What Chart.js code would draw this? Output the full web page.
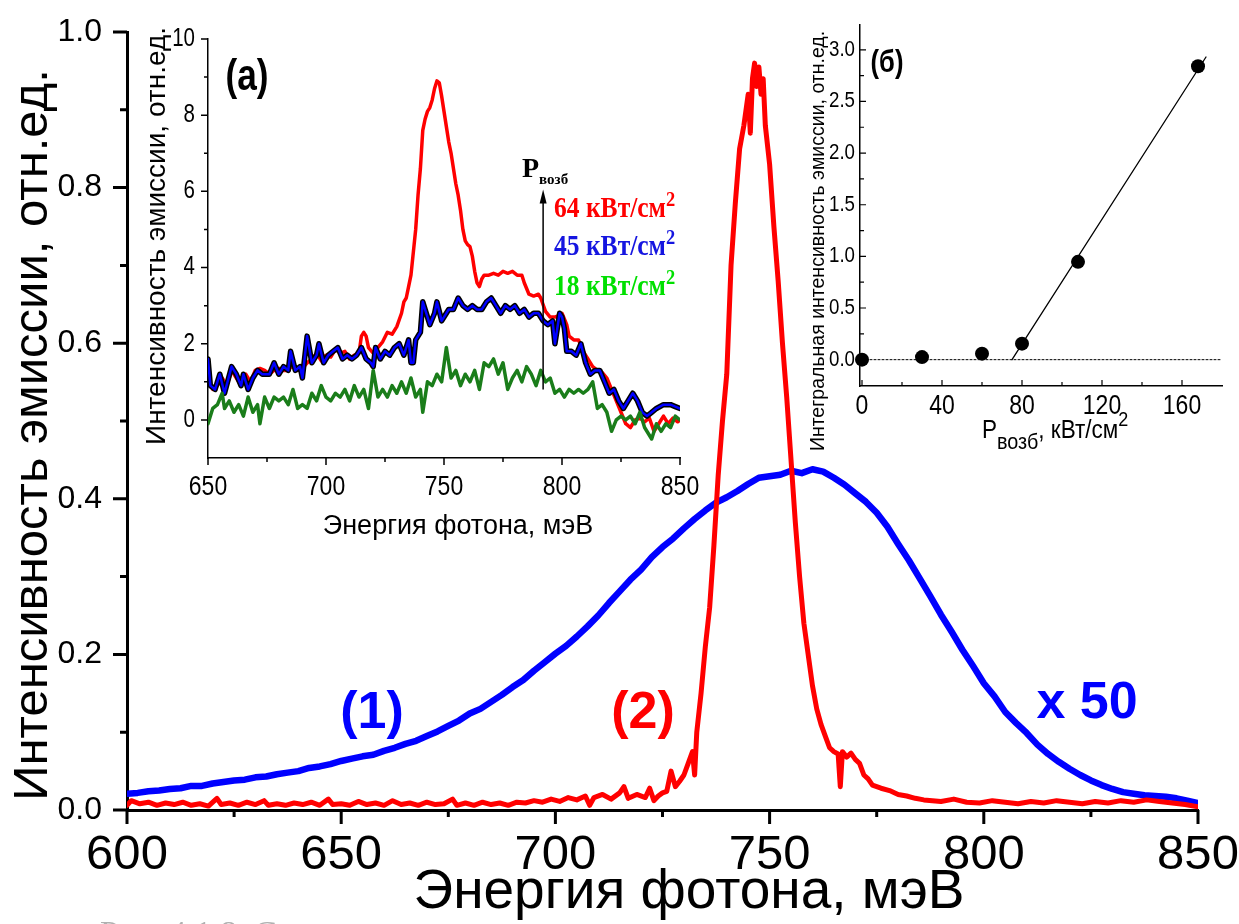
<!DOCTYPE html>
<html>
<head>
<meta charset="utf-8">
<script src="https://cdn.jsdelivr.net/npm/chart.js@4.4.0/dist/chart.umd.min.js"></script>
<style>
  body { margin: 0; background: #fff; }
  #page { position: relative; width: 1239px; height: 924px; overflow: hidden; background: #fff; }
  canvas { position: absolute; }
</style>
</head>
<body>
<div id="page">
  <canvas id="main" width="1239" height="924" style="left:0px;top:0px"></canvas>
  <canvas id="insetA" width="570" height="530" style="left:130px;top:20px"></canvas>
  <canvas id="insetB" width="449" height="450" style="left:790px;top:15px"></canvas>
</div>
<script>
// ---- main plot: curve (1) blue x50, curve (2) red ----
var mainBlueE = [600,602.5,605,607.5,610,612.5,615,617.5,620,622.5,625,627.5,630,632.5,635,637.5,640,642.5,645,647.5,
  650,652.5,655,657.5,660,662.5,665,667.5,670,672.5,675,677.5,680,682.5,685,687.5,690,692.5,695,697.5,
  700,702.5,705,707.5,710,712.5,715,717.5,720,722.5,725,727.5,730,732.5,735,737.5,740,742.5,745,747.5,
  750,752.5,755,757.5,760,762.5,765,767.5,770,772.5,775,777.5,780,782.5,785,787.5,790,792.5,795,797.5,
  800,802.5,805,807.5,810,812.5,815,817.5,820,822.5,825,827.5,830,832.5,835,837.5,840,842.5,845,847.5,850];
var mainBlueV = [0.021,0.022,0.024,0.025,0.027,0.028,0.031,0.031,0.034,0.036,
  0.038,0.039,0.042,0.043,0.046,0.048,0.050,0.054,0.056,0.059,
  0.063,0.066,0.069,0.071,0.076,0.080,0.085,0.089,0.095,0.101,
  0.108,0.115,0.124,0.130,0.139,0.148,0.158,0.167,0.179,0.190,
  0.201,0.211,0.223,0.236,0.250,0.266,0.281,0.296,0.309,0.325,
  0.338,0.349,0.362,0.374,0.385,0.395,0.402,0.410,0.419,0.427,
  0.429,0.431,0.436,0.433,0.438,0.435,0.427,0.418,0.407,0.396,
  0.382,0.364,0.342,0.321,0.298,0.275,0.251,0.229,0.206,0.185,
  0.163,0.146,0.126,0.112,0.099,0.084,0.072,0.062,0.053,0.045,
  0.038,0.032,0.027,0.023,0.021,0.019,0.018,0.017,0.015,0.012,0.009];

var mainRedE = [600,601,603,605,607,609,611,613,615,617,619,621,622,624,626,628,630,632,633,635,637,639,641,643,645,
  647,648,650,652,654,656,658,660,662,664,666,668,670,672,674,676,677,679,681,683,685,687,689,691,693,695,697,699,701,703,
  705,707,708,709,711,713,715,716,717,719,721,722,723,724,725,726,727,728,729,730,731,732,732.5,733,734,
  735,736,737,738,739,740,741,742,743,744,745,745.5,746,746.5,747,747.5,748,748.5,749,750,
  751,752,753,754,755,756,757,758,759,760,761,762,763,764,765,766,766.5,767,768,769,770,771,772,773,774,
  776,778,780,782,784,786,788,790,793,796,799,802,805,808,811,814,817,820,823,826,829,832,835,838,841,844,847,850];
var mainRedV = [0.006,0.012,0.008,0.010,0.006,0.009,0.007,0.010,0.006,0.008,0.005,0.015,0.007,0.009,0.006,
  0.010,0.007,0.012,0.006,0.008,0.006,0.009,0.007,0.010,0.006,0.014,0.007,0.008,0.006,0.011,
  0.007,0.009,0.006,0.012,0.007,0.009,0.006,0.010,0.007,0.008,0.014,0.006,0.009,0.006,0.010,
  0.007,0.009,0.006,0.010,0.009,0.012,0.010,0.014,0.011,0.016,0.013,0.018,0.006,0.016,0.020,
  0.014,0.022,0.030,0.015,0.020,0.016,0.028,0.012,0.018,0.022,0.024,0.050,0.030,0.037,0.045,
  0.060,0.075,0.045,0.10,0.15,0.21,0.26,0.34,0.43,0.50,0.56,0.70,0.78,0.85,0.88,
  0.92,0.87,0.94,0.96,0.93,0.955,0.92,0.94,0.88,0.83,0.75,0.68,0.60,0.53,0.45,
  0.37,0.30,0.24,0.20,0.16,0.13,0.11,0.095,0.080,0.075,0.072,0.030,0.075,0.068,0.073,
  0.065,0.060,0.045,0.040,0.032,0.028,0.025,0.020,0.018,0.015,0.013,0.012,0.011,0.014,0.010,
  0.009,0.012,0.010,0.008,0.011,0.009,0.012,0.010,0.008,0.011,0.009,0.012,0.010,0.013,0.011,
  0.009,0.007,0.004];

var mainXTicks = [600,650,700,750,800,850];
var mainXMinor = [625,675,725,775,825];
var mainYTicks = [0,0.2,0.4,0.6,0.8,1.0];
var mainYMinor = [0.1,0.3,0.5,0.7,0.9];

// ---- inset (a): spectra at three pump levels ----
var aRedE = [650,652,654,656,658,660,662,664,666,668,670,672,674,676,678,680,682,684,686,688,690,692,694,696,698,
  700,702,704,706,708,710,712,714,715,716,717,718,720,722,724,726,728,730,732,733,734,735,736,737,738,739,740,
  741,742,743,744,745,746,747,748,749,750,751,752,753,754,755,756,757,758,759,760,761,762,763,764,765,766,767,
  769,771,773,775,777,779,781,783,784,785,786,788,790,791,793,795,797,799,800,802,803,
  805,807,809,811,813,815,817,819,821,823,825,827,829,831,833,835,837,839,841,843,845,847,849,850];
var aRedV = [1.1,0.8,0.9,1.1,0.9,1.3,1.1,0.9,1.2,1.0,1.3,1.35,1.3,1.2,1.3,1.35,1.3,1.3,1.45,1.3,1.35,1.5,1.6,1.75,1.55,
  1.7,1.65,1.85,1.75,1.8,1.6,1.7,1.75,2.2,2.3,2.2,1.9,1.75,1.9,2.05,2.3,2.25,2.45,2.8,3.1,3.2,3.5,3.8,4.4,5.0,5.9,6.6,
  7.6,7.9,8.1,8.2,8.4,8.7,8.9,8.85,8.5,8.1,7.7,7.3,7.0,6.6,6.2,5.9,5.5,5.0,4.7,4.6,4.55,4.3,3.9,3.6,3.5,3.7,3.8,
  3.8,3.85,3.8,3.9,3.85,3.9,3.8,3.8,3.6,3.45,3.3,3.25,3.3,3.2,2.85,2.7,2.7,2.75,2.8,2.5,2.2,
  2.1,2.1,1.8,1.6,1.4,1.3,1.25,1.1,0.8,0.5,0.2,-0.1,-0.2,0.0,0.05,-0.05,0.05,-0.3,-0.1,0.1,-0.1,0.05,-0.05,0.0];

var aBlueE = [650,651,653,655,657,660,662,664,665,667,669,671,673,676,678,680,682,684,685,687,689,690,692,694,696,
  697,699,701,703,705,707,709,711,713,715,717,719,720,721,723,725,727,729,731,733,734,735,736,737,738,
  740,741,743,744,746,747,749,750,752,754,756,758,760,762,764,766,768,770,772,774,776,778,780,782,784,
  786,788,790,792,794,796,797,799,800,801,802,804,806,808,810,812,814,816,818,820,822,824,826,828,830,
  832,834,836,838,840,843,846,848,850];
var aBlueV = [1.6,0.9,0.8,1.2,0.7,1.4,1.2,0.9,1.2,0.8,1.1,1.3,1.2,1.2,1.5,1.2,1.4,1.3,1.8,1.3,1.4,1.1,2.2,1.5,1.7,
  2.0,1.5,1.7,1.8,1.9,1.6,1.7,1.6,1.7,1.9,1.6,1.5,1.4,1.9,1.6,1.8,1.7,1.9,2.0,1.7,1.9,2.1,1.5,1.5,2.1,
  2.3,3.1,2.7,2.5,2.8,3.1,2.6,2.7,2.9,2.9,3.2,3.0,2.9,3.0,2.9,2.9,3.1,3.2,3.0,2.8,3.0,2.9,3.0,2.8,2.9,
  2.7,2.8,2.8,2.6,2.5,2.6,2.0,2.8,2.7,2.4,1.8,1.8,1.7,2.0,1.5,1.2,1.3,1.3,1.0,0.7,0.8,0.5,0.3,0.5,0.7,
  0.5,0.2,0.1,0.2,0.3,0.4,0.4,0.35,0.3];

var aGreenE = [650,652,654,656,657,659,661,663,665,667,669,671,672,674,676,
  678,680,682,684,686,688,690,692,694,696,698,700,702,704,706,708,710,712,714,716,718,720,722,724,726,728,730,732,734,736,738,740,
  741,743,745,747,749,751,753,755,757,759,761,763,765,767,769,771,773,775,777,779,781,783,785,787,789,791,793,795,797,799,
  801,803,805,807,809,811,813,815,817,819,821,823,825,827,829,831,833,835,838,840,842,844,846,848,850];
var aGreenV = [-0.1,0.3,0.4,0.7,0.3,0.5,0.2,0.4,0.1,0.6,0.2,0.4,-0.1,0.6,0.3,
  0.6,0.5,0.6,0.4,0.8,0.3,0.4,0.3,0.7,0.5,0.9,0.6,0.5,0.7,0.6,0.8,0.5,0.9,0.6,0.8,0.3,1.3,0.6,0.8,0.6,0.9,0.7,1.0,0.7,1.1,0.6,0.8,
  0.2,1.0,0.9,1.2,1.0,1.9,1.1,1.3,0.9,1.2,1.0,1.3,0.8,1.5,1.4,1.6,1.2,1.5,0.8,1.1,1.3,1.0,1.4,1.2,0.9,1.3,1.0,1.1,0.7,0.8,
  0.6,0.8,0.7,0.8,0.7,0.8,1.0,0.3,0.4,0.2,-0.3,0.0,0.1,0.0,0.1,-0.1,0.2,-0.2,-0.5,-0.1,-0.3,-0.1,-0.2,0.1,0.0];

var aXTicks = [650,700,750,800,850];
var aXMinor = [675,725,775,825];
var aYTicks = [0,2,4,6,8,10];
var aYMinor = [1,3,5,7,9];
var aArrowE = 792;          // position of the P arrow
var aArrowFrom = 0.8, aArrowTo = 6.05;

// ---- inset (б): integrated intensity vs pump ----
var bPower = [0,30,60,80,108,168];
var bIntegral = [0.0,0.025,0.058,0.155,0.947,2.84];
var bFitX = [75,172];
var bFitY = [0,2.93];
var bZeroX = [0,180];
var bZeroY = [0,0];
var bXTicks = [0,40,80,120,160];
var bXMinor = [20,60,100,140];
var bYTicks = [0,0.5,1.0,1.5,2.0,2.5,3.0];
var bYMinor = [0.25,0.75,1.25,1.75,2.25,2.75];

var SANS = '"Liberation Sans", Arial, sans-serif';
var SERIF = '"Liberation Serif", "Times New Roman", serif';

function pts(xs, ys) {
  return xs.map(function(x, i) { return {x: x, y: ys[i]}; });
}

// tick marks (major + minor) and, for the insets, condensed tick labels
function tickMarks(spec) {
  return {
    id: 'tickMarks',
    afterDraw: function(chart) {
      var ctx = chart.ctx, a = chart.chartArea;
      var xs = chart.scales.x, ys = chart.scales.y;
      var sgn = spec.inward ? -1 : 1;
      ctx.save();
      ctx.strokeStyle = 'black';
      ctx.lineWidth = spec.width;
      ctx.beginPath();
      function xt(list, len) {
        list.forEach(function(v) {
          var p = xs.getPixelForValue(v);
          ctx.moveTo(p, a.bottom);
          ctx.lineTo(p, a.bottom + sgn * len);
        });
      }
      function yt(list, len) {
        list.forEach(function(v) {
          var p = ys.getPixelForValue(v);
          ctx.moveTo(a.left, p);
          ctx.lineTo(a.left - sgn * len, p);
        });
      }
      xt(spec.xMajor, spec.majLen); xt(spec.xMinor, spec.minLen);
      yt(spec.yMajor, spec.majLen); yt(spec.yMinor, spec.minLen);
      ctx.stroke();

      ctx.fillStyle = 'black';
      ctx.textBaseline = 'middle';
      if (spec.xLab) {
        ctx.font = spec.xLab.font;
        ctx.textAlign = 'center';
        spec.xMajor.forEach(function(v) {
          ctx.save();
          ctx.translate(xs.getPixelForValue(v), a.bottom + spec.xLab.dy);
          ctx.scale(spec.xLab.sx, 1);
          ctx.fillText(spec.xLab.fmt(v), 0, 0);
          ctx.restore();
        });
      }
      if (spec.yLab) {
        ctx.font = spec.yLab.font;
        ctx.textAlign = 'right';
        spec.yMajor.forEach(function(v) {
          ctx.save();
          ctx.translate(a.left - spec.yLab.dx, ys.getPixelForValue(v));
          ctx.scale(spec.yLab.sx, 1);
          ctx.fillText(spec.yLab.fmt(v), 0, 0);
          ctx.restore();
        });
      }
      ctx.restore();
    }
  };
}

// free text (titles, labels) in page coordinates
function pageText(items, offX, offY) {
  return {
    id: 'pageText',
    afterDraw: function(chart) {
      var ctx = chart.ctx;
      items.forEach(function(it) {
        ctx.save();
        ctx.translate(it.x - offX, it.y - offY);
        if (it.rotate) ctx.rotate(it.rotate);
        if (it.sx) ctx.scale(it.sx, 1);
        ctx.textBaseline = it.baseline || 'alphabetic';
        ctx.textAlign = 'left';
        var total = 0;
        it.parts.forEach(function(p) { ctx.font = p.font; total += ctx.measureText(p.t).width; });
        var x = it.align === 'center' ? -total / 2 : 0;
        it.parts.forEach(function(p) {
          ctx.font = p.font;
          ctx.fillStyle = p.color || it.color || 'black';
          ctx.fillText(p.t, x, p.dy || 0);
          x += ctx.measureText(p.t).width;
        });
        ctx.restore();
      });
    }
  };
}

function fixedTicks(list) {
  return function(s) { s.ticks = list.map(function(v) { return {value: v}; }); };
}

function sizeAxis(w, h) {
  return function(s) {
    if (w !== null) s.width = w;
    if (h !== null) s.height = h;
    s.paddingLeft = 0; s.paddingRight = 0; s.paddingTop = 0; s.paddingBottom = 0;
  };
}

function baseOptions(pad) {
  return {
    responsive: false,
    animation: false,
    events: [],
    layout: {padding: pad},
    plugins: {legend: {display: false}, tooltip: {enabled: false}},
    elements: {line: {tension: 0, borderJoinStyle: 'round', borderCapStyle: 'round'}, point: {radius: 0}}
  };
}

function insetAxis(min, max, list, w, h) {
  return {
    type: 'linear', min: min, max: max,
    afterBuildTicks: fixedTicks(list),
    afterFit: sizeAxis(w, h),
    grid: {display: false, drawTicks: false},
    border: {display: true, width: 1.5, color: 'black'},
    ticks: {display: false}
  };
}

function int(v) { return String(v); }
function one(v) { return v.toFixed(1); }

// ===== main chart =====
var mainOpts = baseOptions({left: 0, top: 32, right: 41, bottom: 0});
mainOpts.scales = {
  x: {
    type: 'linear', min: 600, max: 850,
    afterBuildTicks: fixedTicks(mainXTicks),
    afterFit: sizeAxis(null, 114),
    grid: {display: false, drawTicks: false},
    border: {display: true, width: 3, color: 'black'},
    ticks: {color: 'black', padding: 21, maxRotation: 0, autoSkip: false,
      font: {family: SANS, size: 49, lineHeight: 1}}
  },
  y: {
    type: 'linear', min: 0, max: 1,
    afterBuildTicks: fixedTicks(mainYTicks),
    afterFit: sizeAxis(127, null),
    grid: {display: false, drawTicks: false},
    border: {display: true, width: 3, color: 'black'},
    ticks: {color: 'black', padding: 25, autoSkip: false,
      font: {family: SANS, size: 32, lineHeight: 1},
      callback: function(v) { return v.toFixed(1); }}
  }
};

new Chart(document.getElementById('main'), {
  type: 'line',
  data: {
    datasets: [
      {label: '(2)', data: pts(mainRedE, mainRedV), borderColor: '#ff0000', borderWidth: 5, order: 0},
      {label: '(1)', data: pts(mainBlueE, mainBlueV), borderColor: '#0000ff', borderWidth: 6.5, order: 1}
    ]
  },
  options: mainOpts,
  plugins: [
    tickMarks({width: 3, majLen: 14, minLen: 7, xMajor: mainXTicks, xMinor: mainXMinor, yMajor: mainYTicks, yMinor: mainYMinor}),
    pageText([
      {x: 33, y: 435, rotate: -Math.PI / 2, align: 'center', baseline: 'middle',
        parts: [{t: 'Интенсивность эмиссии, отн.ед.', font: '49px ' + SANS}]},
      {x: 689, y: 893, align: 'center', baseline: 'middle',
        parts: [{t: 'Энергия фотона, мэВ', font: '55px ' + SANS}]},
      {x: 372, y: 714, align: 'center', baseline: 'middle', color: '#0000ff',
        parts: [{t: '(1)', font: 'bold 52px ' + SANS}]},
      {x: 643, y: 714, align: 'center', baseline: 'middle', color: '#ff0000',
        parts: [{t: '(2)', font: 'bold 52px ' + SANS}]},
      {x: 1087, y: 704, align: 'center', baseline: 'middle', color: '#0000ff',
        parts: [{t: 'x 50', font: 'bold 52px ' + SANS}]},
      {x: 100, y: 944, color: '#b0b0b0',
        parts: [{t: 'Рис. 4.1.8. С', font: '34px ' + SERIF}]}
    ], 0, 0)
  ]
});

// ===== inset (a) =====
var aOpts = baseOptions({left: 0, top: 19, right: 20, bottom: 0});
aOpts.scales = {
  x: insetAxis(650, 850, aXTicks, null, 92),
  y: insetAxis(-1, 10, aYTicks, 78, null)
};

var arrowPlugin = {
  id: 'pumpArrow',
  afterDatasetsDraw: function(chart) {
    var ctx = chart.ctx;
    var x = chart.scales.x.getPixelForValue(aArrowE);
    var y1 = chart.scales.y.getPixelForValue(aArrowFrom);
    var y2 = chart.scales.y.getPixelForValue(aArrowTo);
    ctx.save();
    ctx.strokeStyle = 'black';
    ctx.fillStyle = 'black';
    ctx.lineWidth = 1.5;
    ctx.beginPath();
    ctx.moveTo(x, y1);
    ctx.lineTo(x, y2 + 10);
    ctx.stroke();
    ctx.beginPath();
    ctx.moveTo(x, y2);
    ctx.lineTo(x - 3.5, y2 + 14);
    ctx.lineTo(x + 3.5, y2 + 14);
    ctx.closePath();
    ctx.fill();
    ctx.restore();
  }
};

new Chart(document.getElementById('insetA'), {
  type: 'line',
  data: {
    datasets: [
      {label: '18 кВт/см2', data: pts(aGreenE, aGreenV), borderColor: '#1a7d1a', borderWidth: 3.5, order: 0},
      {label: '45 кВт/см2', data: pts(aBlueE, aBlueV), borderColor: '#0000ff', borderWidth: 2.5, order: 1},
      {label: '45 outline', data: pts(aBlueE, aBlueV), borderColor: '#000000', borderWidth: 5.5, order: 2},
      {label: '64 кВт/см2', data: pts(aRedE, aRedV), borderColor: '#ff0000', borderWidth: 3.5, order: 3}
    ]
  },
  options: aOpts,
  plugins: [
    tickMarks({width: 1.5, majLen: 7, minLen: 4, xMajor: aXTicks, xMinor: aXMinor, yMajor: aYTicks, yMinor: aYMinor,
      xLab: {font: '28px ' + SANS, sx: 0.82, dy: 29, fmt: int},
      yLab: {font: '25px ' + SANS, sx: 0.82, dx: 13, fmt: int}}),
    arrowPlugin,
    pageText([
      {x: 157, y: 236, rotate: -Math.PI / 2, align: 'center', baseline: 'middle',
        parts: [{t: 'Интенсивность эмиссии, отн.ед.', font: '28px ' + SANS}]},
      {x: 458, y: 527, align: 'center', baseline: 'middle',
        parts: [{t: 'Энергия фотона, мэВ', font: '27px ' + SANS}]},
      {x: 247, y: 78, align: 'center', baseline: 'middle', sx: 0.8,
        parts: [{t: '(a)', font: 'bold 44px ' + SANS}]},
      {x: 522, y: 177, parts: [{t: 'P', font: 'bold 28px ' + SERIF}, {t: 'возб', font: 'bold 15px ' + SERIF, dy: 7}]},
      {x: 554, y: 217, sx: 0.88, color: '#ff0000',
        parts: [{t: '64 кВт/см', font: 'bold 29px ' + SERIF}, {t: '2', font: 'bold 21px ' + SERIF, dy: -11}]},
      {x: 554, y: 255, sx: 0.88, color: '#1515e0',
        parts: [{t: '45 кВт/см', font: 'bold 29px ' + SERIF}, {t: '2', font: 'bold 21px ' + SERIF, dy: -11}]},
      {x: 554, y: 295, sx: 0.88, color: '#00e000',
        parts: [{t: '18 кВт/см', font: 'bold 29px ' + SERIF}, {t: '2', font: 'bold 21px ' + SERIF, dy: -11}]}
    ], 130, 20)
  ]
});

// ===== inset (б) =====
var bOpts = baseOptions({left: 0, top: 10, right: 17, bottom: 0});
bOpts.scales = {
  x: insetAxis(-1, 180, bXTicks, null, 79),
  y: insetAxis(-0.255, 3.24, bYTicks, 70, null)
};

new Chart(document.getElementById('insetB'), {
  type: 'line',
  data: {
    datasets: [
      {label: 'data', data: pts(bPower, bIntegral), showLine: false, pointRadius: 7,
        pointBackgroundColor: '#000', pointBorderWidth: 0, clip: false, order: 0},
      {label: 'fit', data: pts(bFitX, bFitY), borderColor: '#000', borderWidth: 1.3, order: 1},
      {label: 'zero', data: pts(bZeroX, bZeroY), borderColor: '#000', borderWidth: 1, borderDash: [2, 2], order: 2}
    ]
  },
  options: bOpts,
  plugins: [
    tickMarks({width: 1.2, inward: true, majLen: 6, minLen: 4, xMajor: bXTicks, xMinor: bXMinor, yMajor: bYTicks, yMinor: bYMinor,
      xLab: {font: '28px ' + SANS, sx: 0.82, dy: 20, fmt: int},
      yLab: {font: '22px ' + SANS, sx: 0.85, dx: 5, fmt: one}}),
    pageText([
      {x: 819, y: 241, rotate: -Math.PI / 2, align: 'center', baseline: 'middle',
        parts: [{t: 'Интегральная интенсивность эмиссии, отн.ед.', font: '19.5px ' + SANS}]},
      {x: 887, y: 63, align: 'center', baseline: 'middle', sx: 0.8,
        parts: [{t: '(б)', font: 'bold 32px ' + SANS}]},
      {x: 982, y: 438, sx: 0.9,
        parts: [{t: 'P', font: '25px ' + SANS}, {t: 'возб', font: '22px ' + SANS, dy: 11},
          {t: ', кВт/см', font: '25px ' + SANS}, {t: '2', font: '20px ' + SANS, dy: -12}]}
    ], 790, 15)
  ]
});
</script>
</body>
</html>
